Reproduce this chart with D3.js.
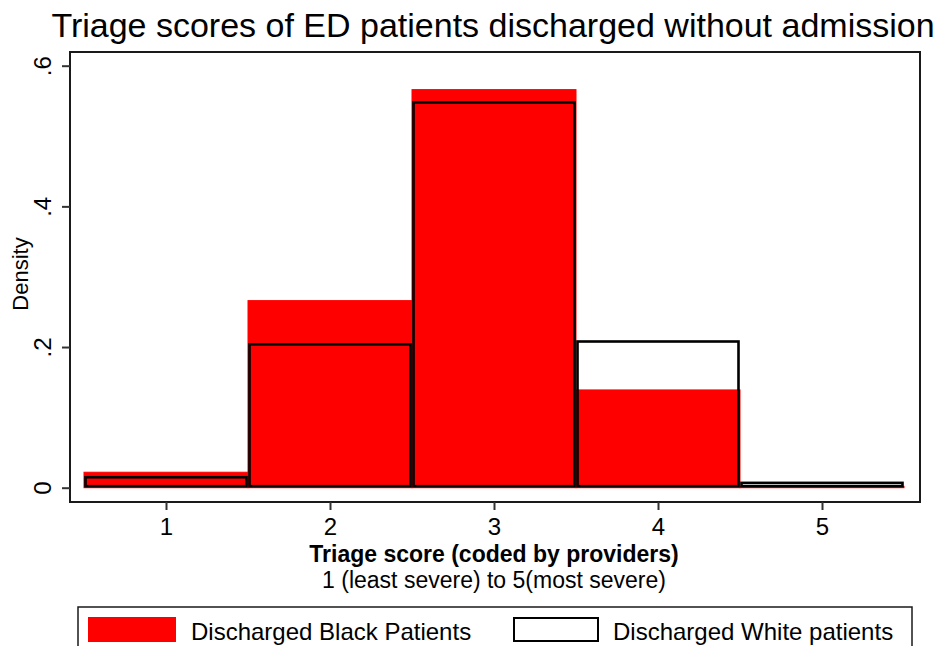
<!DOCTYPE html>
<html>
<head>
<meta charset="utf-8">
<script src="https://cdn.jsdelivr.net/npm/d3@7"></script>
<style>
  html, body { margin: 0; padding: 0; background: #fff; }
  svg { display: block; font-family: "Liberation Sans", Arial, Helvetica, sans-serif; }
</style>
</head>
<body>
<svg id="chart" width="941" height="646"></svg>
<script>
// Triage score bins (1 = least severe, 5 = most severe)
const scores = [1, 2, 3, 4, 5];
// Density of each score among discharged patients
const blackDensity = [0.022, 0.266, 0.566, 0.139, 0.002];
const whiteDensity = [0.017, 0.206, 0.550, 0.210, 0.009];
const yTicks = [0, 0.2, 0.4, 0.6];
const yTickLabels = ["0", ".2", ".4", ".6"];
const seriesNames = ["Discharged Black Patients", "Discharged White patients"];

const svg = d3.select("#chart");
const W = 941, H = 646;
const plot = { left: 70, right: 920, top: 52, bottom: 502 };

const x = d3.scaleLinear().domain([0.5, 5.5]).range([84, 904]);
const y = d3.scaleLinear().domain([0, 0.6]).range([487.7, 65.7]);

svg.append("rect").attr("width", W).attr("height", H).attr("fill", "#fff");

// Title
svg.append("text")
  .attr("x", (plot.left + plot.right) / 2 - 2).attr("y", 37)
  .attr("text-anchor", "middle")
  .attr("font-size", 34).attr("fill", "#000")
  .text("Triage scores of ED patients discharged without admission");

// Red bars (Black patients)
svg.append("g").selectAll("rect")
  .data(scores.map((s, i) => ({ s, v: blackDensity[i] })))
  .join("rect")
  .attr("x", d => x(d.s - 0.5))
  .attr("width", d => x(d.s + 0.5) - x(d.s - 0.5))
  .attr("y", d => y(d.v))
  .attr("height", d => y(0) - y(d.v))
  .attr("fill", "#ff0000")
  .attr("stroke", "#ff0000")
  .attr("stroke-width", 1);

// Outlined bars (White patients), drawn on top with no fill
const inset = 1.5;
svg.append("g").selectAll("rect")
  .data(scores.map((s, i) => ({ s, v: whiteDensity[i] })))
  .join("rect")
  .attr("x", d => x(d.s - 0.5) + inset)
  .attr("width", d => x(d.s + 0.5) - x(d.s - 0.5) - 2 * inset)
  .attr("y", d => y(d.v) + inset)
  .attr("height", d => Math.max(0, y(0) - y(d.v) - 2 * inset))
  .attr("fill", "none")
  .attr("stroke", "#000")
  .attr("stroke-width", 2.6);

// Plot frame
svg.append("rect")
  .attr("x", plot.left).attr("y", plot.top)
  .attr("width", plot.right - plot.left).attr("height", plot.bottom - plot.top)
  .attr("fill", "none").attr("stroke", "#1a1a1a").attr("stroke-width", 2);

// Y axis: ticks outside, labels rotated
const yAxis = d3.axisLeft(y).tickValues(yTicks)
  .tickFormat((d, i) => yTickLabels[i]).tickSize(8).tickPadding(10);
const gy = svg.append("g").attr("transform", `translate(${plot.left},0)`).call(yAxis);
gy.select(".domain").remove();
gy.selectAll(".tick line").attr("stroke", "#333").attr("stroke-width", 2);
gy.selectAll(".tick text")
  .attr("font-size", 24).attr("fill", "#000")
  .attr("font-family", "Liberation Sans, Arial, sans-serif")
  .attr("x", null).attr("dy", null)
  .attr("text-anchor", "middle")
  .attr("transform", "translate(-19,0) rotate(-90)");

svg.append("text")
  .attr("transform", `translate(28,${(plot.top + plot.bottom) / 2 - 3}) rotate(-90)`)
  .attr("text-anchor", "middle").attr("font-size", 22).attr("fill", "#000")
  .text("Density");

// X axis
const xAxis = d3.axisBottom(x).tickValues(scores).tickFormat(d3.format("d"))
  .tickSize(8).tickPadding(10);
const gx = svg.append("g").attr("transform", `translate(0,${plot.bottom})`).call(xAxis);
gx.select(".domain").remove();
gx.selectAll(".tick line").attr("stroke", "#333").attr("stroke-width", 2);
gx.selectAll(".tick text")
  .attr("font-size", 24).attr("fill", "#000")
  .attr("font-family", "Liberation Sans, Arial, sans-serif")
  .attr("dy", null).attr("y", 33);

svg.append("text")
  .attr("x", (plot.left + plot.right) / 2 - 1).attr("y", 562)
  .attr("text-anchor", "middle").attr("font-size", 23).attr("font-weight", "bold")
  .attr("fill", "#000")
  .text("Triage score (coded by providers)");
svg.append("text")
  .attr("x", (plot.left + plot.right) / 2 - 1).attr("y", 588)
  .attr("text-anchor", "middle").attr("font-size", 23).attr("fill", "#000")
  .text("1 (least severe) to 5(most severe)");

// Legend
const lg = svg.append("g");
lg.append("rect")
  .attr("x", 78).attr("y", 607).attr("width", 834).attr("height", 60)
  .attr("fill", "#fff").attr("stroke", "#1a1a1a").attr("stroke-width", 1.5);
lg.append("rect")
  .attr("x", 88).attr("y", 617).attr("width", 88).attr("height", 25)
  .attr("fill", "#ff0000");
lg.append("text")
  .attr("x", 191).attr("y", 640).attr("font-size", 24).attr("fill", "#000")
  .text(seriesNames[0]);
lg.append("rect")
  .attr("x", 514).attr("y", 618).attr("width", 84).attr("height", 23)
  .attr("fill", "#fff").attr("stroke", "#000").attr("stroke-width", 2);
lg.append("text")
  .attr("x", 613).attr("y", 640).attr("font-size", 24).attr("fill", "#000")
  .text(seriesNames[1]);
</script>
</body>
</html>
